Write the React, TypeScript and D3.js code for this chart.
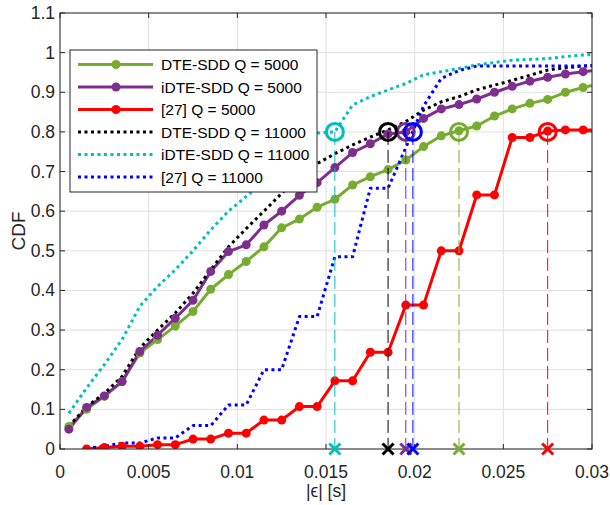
import React from 'react';
import * as d3 from 'd3';

// error grid (s)
const epsA = [0.0005, 0.0015, 0.0025, 0.0035, 0.0045, 0.0055, 0.0065, 0.0075, 0.0085, 0.0095,
  0.0105, 0.0115, 0.0125, 0.0135, 0.0145, 0.0155, 0.0165, 0.0175, 0.0185, 0.0195,
  0.0205, 0.0215, 0.0225, 0.0235, 0.0245, 0.0255, 0.0265, 0.0275, 0.0285, 0.0295, 0.0305];
const epsB = epsA.slice(1);

const dteQ5 = [0.057, 0.1, 0.133, 0.17, 0.242, 0.276, 0.31, 0.347, 0.403, 0.44,
  0.473, 0.51, 0.558, 0.58, 0.61, 0.63, 0.666, 0.687, 0.705, 0.729,
  0.763, 0.79, 0.803, 0.815, 0.84, 0.858, 0.872, 0.882, 0.9, 0.912, 0.922];
const idteQ5 = [0.05, 0.105, 0.134, 0.17, 0.246, 0.287, 0.33, 0.375, 0.448, 0.498,
  0.515, 0.565, 0.6, 0.64, 0.672, 0.71, 0.748, 0.77, 0.795, 0.8,
  0.834, 0.858, 0.869, 0.883, 0.9, 0.915, 0.928, 0.938, 0.946, 0.952, 0.957];
const refQ5 = [0.0, 0.004, 0.007, 0.007, 0.011, 0.011, 0.025, 0.025, 0.04, 0.04,
  0.073, 0.073, 0.107, 0.107, 0.172, 0.172, 0.244, 0.244, 0.363, 0.363,
  0.5, 0.5, 0.641, 0.641, 0.786, 0.786, 0.802, 0.805, 0.805, 0.805];
const dteQ11 = [0.057, 0.107, 0.14, 0.183, 0.255, 0.3, 0.343, 0.393, 0.452, 0.51,
  0.556, 0.6, 0.645, 0.685, 0.72, 0.745, 0.767, 0.787, 0.805, 0.826,
  0.855, 0.876, 0.889, 0.906, 0.918, 0.93, 0.943, 0.956, 0.962, 0.966, 0.969];
const idteQ11 = [0.09, 0.154, 0.213, 0.276, 0.36, 0.41, 0.452, 0.5, 0.553, 0.6,
  0.637, 0.675, 0.71, 0.75, 0.797, 0.8, 0.868, 0.889, 0.906, 0.922,
  0.944, 0.952, 0.96, 0.969, 0.975, 0.981, 0.983, 0.985, 0.99, 0.994, 0.997];
const refQ11 = [0.002, 0.007, 0.015, 0.015, 0.028, 0.028, 0.059, 0.059, 0.111, 0.111,
  0.2, 0.2, 0.334, 0.334, 0.485, 0.485, 0.658, 0.658, 0.76, 0.865,
  0.935, 0.955, 0.966, 0.966, 0.966, 0.966, 0.966, 0.966, 0.966, 0.966];

// epsilon where each CDF reaches 0.8
const thrDte5 = 0.0225;
const thrIdte5 = 0.0195;
const thrRef5 = 0.0275;
const thrDte11 = 0.0185;
const thrIdte11 = 0.0155;
const thrRef11 = 0.0199;
const thrLevel = 0.8;

const xTicks = [0, 0.005, 0.01, 0.015, 0.02, 0.025, 0.03];
const yTicks = [0, 0.1, 0.2, 0.3, 0.4, 0.5, 0.6, 0.7, 0.8, 0.9, 1, 1.1];

const series = [
  { name: 'DTE-SDD Q = 5000', x: epsA, y: dteQ5, color: '#77AC30', dotted: false, thr: thrDte5 },
  { name: 'iDTE-SDD Q = 5000', x: epsA, y: idteQ5, color: '#7E2F8E', dotted: false, thr: thrIdte5 },
  { name: '[27] Q = 5000', x: epsB, y: refQ5, color: '#FF0000', dotted: false, thr: thrRef5 },
  { name: 'DTE-SDD Q = 11000', x: epsA, y: dteQ11, color: '#000000', dotted: true, thr: thrDte11 },
  { name: 'iDTE-SDD Q = 11000', x: epsA, y: idteQ11, color: '#00BFBF', dotted: true, thr: thrIdte11 },
  { name: '[27] Q = 11000', x: epsB, y: refQ11, color: '#0000FF', dotted: true, thr: thrRef11 },
];

const W = 610, H = 505;
const L = 60, R = 592, T = 13, B = 449;
const font = "'Liberation Sans', Arial, sans-serif";
const axisCol = '#262626';

const App = () => {
  const x = d3.scaleLinear().domain([0, 0.03]).range([L, R]);
  const y = d3.scaleLinear().domain([0, 1.1]).range([B, T]);
  const line = d3.line<[number, number]>().x(d => x(d[0])).y(d => y(d[1]));
  const fmt = (v: number) => (v === 0 ? '0' : String(+v.toFixed(3)));

  const cross = (cx: number, cy: number, s: number) =>
    `M${cx - s},${cy - s}L${cx + s},${cy + s}M${cx - s},${cy + s}L${cx + s},${cy - s}`;

  return (
    <svg width={W} height={H} style={{ position: 'absolute', left: 0, top: 0, background: '#fff' }}
      fontFamily={font}>
      <defs>
        <clipPath id="plot"><rect x={L} y={T} width={R - L} height={B - T} /></clipPath>
      </defs>
      <rect x={L} y={T} width={R - L} height={B - T} fill="#fff" />
      {/* grid */}
      {xTicks.map(t => (
        <line key={'gx' + t} x1={x(t)} x2={x(t)} y1={T} y2={B} stroke="#dfdfdf" strokeWidth={1} />
      ))}
      {yTicks.map(t => (
        <line key={'gy' + t} x1={L} x2={R} y1={y(t)} y2={y(t)} stroke="#dfdfdf" strokeWidth={1} />
      ))}

      <g clipPath="url(#plot)">
        {series.map(s => (
          <path key={'l' + s.name} d={line(s.x.map((v, i) => [v, s.y[i]]) as [number, number][]) || ''}
            fill="none" stroke={s.color} strokeWidth={3}
            strokeDasharray={s.dotted ? '3,3.5' : undefined} strokeLinejoin="round" />
        ))}
        {series.filter(s => !s.dotted).map(s => (
          <g key={'m' + s.name}>
            {s.x.map((v, i) => (
              <circle key={i} cx={x(v)} cy={y(s.y[i])} r={4.5} fill={s.color} />
            ))}
          </g>
        ))}
        {series.map(s => (
          <g key={'t' + s.name}>
            <line x1={x(s.thr)} x2={x(s.thr)} y1={y(thrLevel)} y2={B} stroke={s.color}
              strokeWidth={1} strokeDasharray="13,5" />
            <circle cx={x(s.thr)} cy={y(thrLevel)} r={8.5} fill="none" stroke={s.color} strokeWidth={3} />
          </g>
        ))}
      </g>

      {/* axes box and ticks */}
      <rect x={L} y={T} width={R - L} height={B - T} fill="none" stroke={axisCol} strokeWidth={1} />
      {xTicks.map(t => (
        <g key={'tx' + t}>
          <line x1={x(t)} x2={x(t)} y1={B} y2={B - 5} stroke={axisCol} />
          <line x1={x(t)} x2={x(t)} y1={T} y2={T + 5} stroke={axisCol} />
          <text x={x(t)} y={472} textAnchor="middle" dominantBaseline="central" fontSize={17.5}
            fill={axisCol}>{fmt(t)}</text>
        </g>
      ))}
      {yTicks.map(t => (
        <g key={'ty' + t}>
          <line x1={L} x2={L + 5} y1={y(t)} y2={y(t)} stroke={axisCol} />
          <line x1={R} x2={R - 5} y1={y(t)} y2={y(t)} stroke={axisCol} />
          <text x={55} y={y(t)} textAnchor="end" dominantBaseline="central" fontSize={17.5}
            fill={axisCol}>{fmt(t)}</text>
        </g>
      ))}
      {/* threshold crosses on the x axis */}
      {series.map(s => (
        <path key={'c' + s.name} d={cross(x(s.thr), B, 5.5)} stroke={s.color} strokeWidth={3} />
      ))}
      <text transform={`translate(18,${(T + B) / 2}) rotate(-90)`} textAnchor="middle"
        dominantBaseline="central" fontSize={19} fill={axisCol}>CDF</text>
      <text x={(L + R) / 2} y={491} textAnchor="middle" dominantBaseline="central" fontSize={17.5}
        fill={axisCol}>|ϵ| [s]</text>

      {/* legend */}
      <g>
        <rect x={70} y={50} width={247} height={142} fill="#fff" stroke={axisCol} strokeWidth={1} />
        {series.map((s, i) => {
          const ly = 64.5 + i * 22.5;
          return (
            <g key={'lg' + s.name}>
              <line x1={78} x2={153} y1={ly} y2={ly} stroke={s.color} strokeWidth={3}
                strokeDasharray={s.dotted ? '3,3.5' : undefined} />
              {!s.dotted && <circle cx={116} cy={ly} r={4.5} fill={s.color} />}
              <text x={161} y={ly} dominantBaseline="central" fontSize={15.5} fill="#000">{s.name}</text>
            </g>
          );
        })}
      </g>
    </svg>
  );
};

export default App;
